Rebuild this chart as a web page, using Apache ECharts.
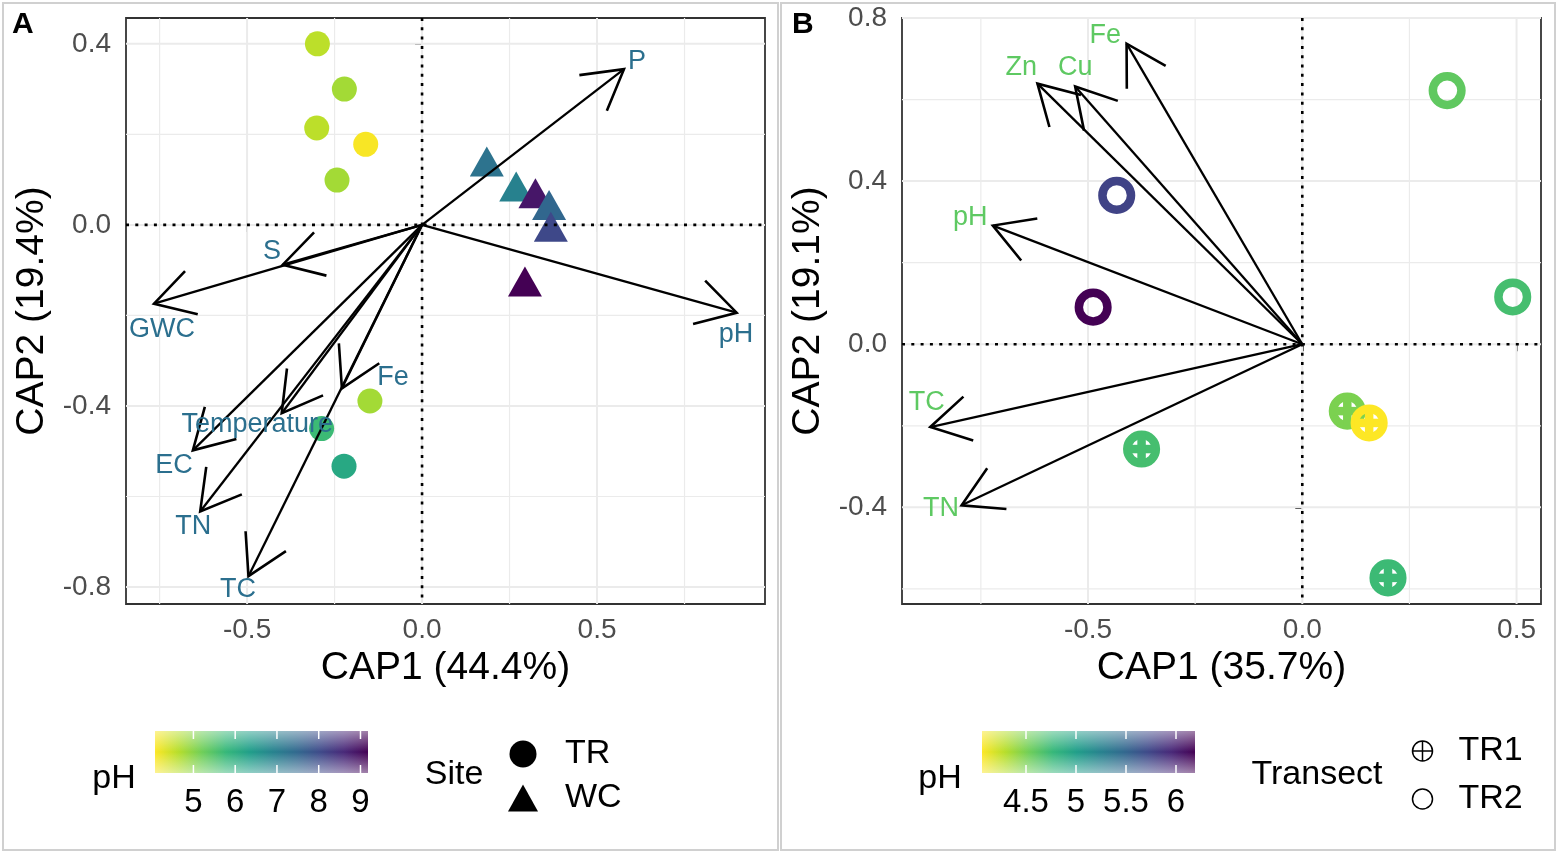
<!DOCTYPE html>
<html><head><meta charset="utf-8">
<script src="https://cdn.jsdelivr.net/npm/echarts@6/dist/echarts.min.js"></script>
<style>html,body{margin:0;padding:0;background:#fff}#c{width:1562px;height:854px}</style>
</head><body><div id="c"></div>
<script>
// ---------- Panel A data ----------
// [CAP1, CAP2, pH]
const siteTR = [[-0.299,0.400,4.59],[-0.222,0.300,4.79],[-0.301,0.214,4.59],[-0.161,0.178,4.12],[-0.243,0.099,4.79],[-0.149,-0.389,4.79],[-0.287,-0.450,5.71],[-0.223,-0.533,6.12]];
const siteWC = [[0.185,0.140,7.25],[0.269,0.085,6.94],[0.324,0.070,8.87],[0.363,0.044,7.5],[0.368,-0.004,8.06],[0.294,-0.125,9.18]];
const envNamesA = ['P','pH','S','GWC','Fe','Temperature','EC','TN','TC'];
const envTipsA = [[0.577,0.344],[0.899,-0.194],[-0.398,-0.088],[-0.766,-0.174],[-0.229,-0.361],[-0.401,-0.416],[-0.655,-0.498],[-0.634,-0.633],[-0.496,-0.776]];
const envLabelPosA = [[0.614,0.360],[0.897,-0.243],[-0.429,-0.060],[-0.743,-0.232],[-0.083,-0.338],[-0.471,-0.441],[-0.709,-0.532],[-0.654,-0.667],[-0.526,-0.806]];
const xTicksA = [-0.5,0,0.5];
const yTicksA = [-0.8,-0.4,0,0.4];
const xGridA = [-0.75,-0.5,-0.25,0,0.25,0.5,0.75];
const yGridA = [-0.8,-0.6,-0.4,-0.2,0,0.2,0.4];
const pHTicksA = [5,6,7,8,9];
const pHRangeA = [4.08,9.18];

// ---------- Panel B data ----------
const transectTR1 = [[0.105,-0.164,4.49],[0.156,-0.193,4.06],[-0.375,-0.257,4.70],[0.200,-0.573,4.74]];
const transectTR2 = [[0.338,0.622,4.59],[0.491,0.116,4.70],[-0.433,0.365,5.76],[-0.488,0.091,6.19]];
const envNamesB = ['Fe','Zn','Cu','pH','TC','TN'];
const envTipsB = [[-0.410,0.737],[-0.618,0.639],[-0.530,0.632],[-0.722,0.291],[-0.868,-0.203],[-0.795,-0.395]];
const envLabelPosB = [[-0.460,0.757],[-0.656,0.679],[-0.530,0.679],[-0.775,0.311],[-0.876,-0.142],[-0.843,-0.404]];
const xTicksB = [-0.5,0,0.5];
const yTicksB = [-0.4,0,0.4,0.8];
const xGridB = [-0.75,-0.5,-0.25,0,0.25,0.5];
const yGridB = [-0.6,-0.4,-0.2,0,0.2,0.4,0.6,0.8];
const pHTicksB = [4.5,5,5.5,6];
const pHRangeB = [4.06,6.19];

const viridisR = ['#fde725','#b5de2b','#6ece58','#35b779','#1f9e89','#26828e','#31688e','#3e4989','#482878','#440154'];
const FONT = '"Liberation Sans", Arial, sans-serif';

const chart = echarts.init(document.getElementById('c'), null, {renderer:'canvas'});

function gridSeries(idx, xs, ys) {
  const data = xs.map(v => [v, 0, 0]).concat(ys.map(v => [0, v, 1]));
  return {type:'custom', xAxisIndex:idx, yAxisIndex:idx, silent:true, z:1, data,
    renderItem(params, api) {
      const cs = params.coordSys; const kind = api.value(2);
      const minor = kind === 0 ? (Math.abs(api.value(0) * 2 % 1) > 0.01) : (Math.abs(api.value(1) * 2.5 % 1) > 0.01);
      const w = minor ? 1.2 : 2;
      if (kind === 0) { const x = api.coord([api.value(0), 0])[0];
        return {type:'line', shape:{x1:x, y1:cs.y, x2:x, y2:cs.y+cs.height}, style:{stroke:'#ebebeb', lineWidth:w}}; }
      const y = api.coord([0, api.value(1)])[1];
      return {type:'line', shape:{x1:cs.x, y1:y, x2:cs.x+cs.width, y2:y}, style:{stroke:'#ebebeb', lineWidth:w}};
    }};
}
function zeroSeries(idx) {
  return {type:'custom', xAxisIndex:idx, yAxisIndex:idx, silent:true, z:3, data:[[0,0,0],[0,0,1]],
    renderItem(params, api) {
      const cs = params.coordSys; const o = api.coord([0,0]);
      const st = {stroke:'#000', lineWidth:2.6, lineDash:[3,6.3]};
      if (api.value(2) === 0) return {type:'line', shape:{x1:o[0], y1:cs.y, x2:o[0], y2:cs.y+cs.height}, style:st};
      return {type:'line', shape:{x1:cs.x, y1:o[1], x2:cs.x+cs.width, y2:o[1]}, style:st};
    }};
}
function arrowSeries(idx, tips, labels, names, color) {
  return {type:'custom', xAxisIndex:idx, yAxisIndex:idx, silent:true, z:5,
    data: tips.map((t,i) => [t[0], t[1], labels[i][0], labels[i][1]]),
    renderItem(params, api) {
      const o = api.coord([0,0]);
      const t = api.coord([api.value(0), api.value(1)]);
      const l = api.coord([api.value(2), api.value(3)]);
      const dx = o[0]-t[0], dy = o[1]-t[1], len = Math.hypot(dx, dy);
      const ux = dx/len, uy = dy/len, hl = 45, a = Math.PI/6;
      const rot = (ang) => [t[0] + hl*(ux*Math.cos(ang) - uy*Math.sin(ang)), t[1] + hl*(ux*Math.sin(ang) + uy*Math.cos(ang))];
      return {type:'group', children:[
        {type:'line', shape:{x1:o[0], y1:o[1], x2:t[0], y2:t[1]}, style:{stroke:'#000', lineWidth:2.3}},
        {type:'polyline', shape:{points:[rot(a), t, rot(-a)]}, style:{stroke:'#000', lineWidth:2.6, fill:null}},
        {type:'text', z2:10, x:l[0], y:l[1], style:{text:names[params.dataIndex], fill:color, font:'27px ' + FONT, align:'center', verticalAlign:'middle'}}
      ]};
    }};
}
function ringSeries(name, idx, data, cross) {
  return {type:'custom', name, xAxisIndex:idx, yAxisIndex:idx, z:2, data,
    encode:{x:0, y:1},
    renderItem(params, api) {
      const c = api.coord([api.value(0), api.value(1)]);
      const col = api.visual('color'); const r = 14.3, lw = 8.5;
      const ch = [{type:'circle', shape:{cx:c[0], cy:c[1], r}, style:{fill:'none', stroke:col, lineWidth:lw}}];
      if (cross) {
        ch.push({type:'line', shape:{x1:c[0]-r, y1:c[1], x2:c[0]+r, y2:c[1]}, style:{stroke:col, lineWidth:lw}});
        ch.push({type:'line', shape:{x1:c[0], y1:c[1]-r, x2:c[0], y2:c[1]+r}, style:{stroke:col, lineWidth:lw}});
      }
      return {type:'group', children:ch};
    }};
}
function colorbarSeries(idx, ticks) {
  return {type:'custom', xAxisIndex:idx, yAxisIndex:idx, silent:true, z:2,
    data: ticks.map(v => [v, 0]),
    renderItem(params, api) {
      const cs = params.coordSys; const x = api.coord([api.value(0), 0])[0];
      const ch = [];
      if (params.dataIndex === 0) {
        ch.push({type:'rect', z2:0, shape:{x:cs.x, y:cs.y, width:cs.width, height:cs.height},
          style:{fill:new echarts.graphic.LinearGradient(0,0,1,0, viridisR.map((c,i)=>({offset:i/(viridisR.length-1), color:c})))}});
        ch.push({type:'rect', z2:1, shape:{x:cs.x, y:cs.y, width:cs.width, height:cs.height},
          style:{fill:new echarts.graphic.LinearGradient(0,0,0,1,[{offset:0,color:'rgba(255,255,255,0.5)'},{offset:0.5,color:'rgba(255,255,255,0)'},{offset:1,color:'rgba(255,255,255,0.5)'}])}});
      }
      ch.push({type:'line', z2:5, shape:{x1:x, y1:cs.y, x2:x, y2:cs.y+8}, style:{stroke:'#fff', lineWidth:1.5}});
      ch.push({type:'line', z2:5, shape:{x1:x, y1:cs.y+cs.height-8, x2:x, y2:cs.y+cs.height}, style:{stroke:'#fff', lineWidth:1.5}});
      return {type:'group', children:ch};
    }};
}
function plotXAxis(idx, min, max, ticks, name) {
  return {gridIndex:idx, type:'value', min, max, name, nameLocation:'middle', nameGap:43,
    nameTextStyle:{fontSize:39, color:'#000', fontFamily:FONT},
    axisLine:{show:false}, splitLine:{show:false},
    axisTick:{show:true, customValues:ticks, length:7, lineStyle:{color:'#333', width:2}},
    axisLabel:{customValues:ticks, formatter:v => Number(v).toFixed(1), fontSize:28, color:'#4d4d4d', fontFamily:FONT, margin:12}};
}
function plotYAxis(idx, min, max, ticks, name) {
  return {gridIndex:idx, type:'value', min, max, name, nameLocation:'middle', nameGap:74, nameRotate:90,
    nameTextStyle:{fontSize:39, color:'#000', fontFamily:FONT},
    axisLine:{show:false}, splitLine:{show:false},
    axisTick:{show:true, customValues:ticks, length:7, lineStyle:{color:'#333', width:2}},
    axisLabel:{customValues:ticks, formatter:v => Number(v).toFixed(1), fontSize:28, color:'#4d4d4d', fontFamily:FONT, margin:15}};
}
function cbXAxis(idx, range, ticks) {
  return {gridIndex:idx, type:'value', min:range[0], max:range[1], axisLine:{show:false}, splitLine:{show:false},
    axisTick:{show:false}, axisLabel:{customValues:ticks, fontSize:33, color:'#000', fontFamily:FONT, margin:13}};
}

const option = {
  animation:false,
  backgroundColor:'#fff',
  grid:[
    {left:126, top:18, width:639, height:586, show:true, borderColor:'#333', borderWidth:1.8, backgroundColor:'#fff'},
    {left:902, top:18, width:639, height:586, show:true, borderColor:'#333', borderWidth:1.8, backgroundColor:'#fff'},
    {left:155, top:731, width:213, height:42},
    {left:982, top:731, width:213, height:42}
  ],
  xAxis:[
    plotXAxis(0, -0.846, 0.98, xTicksA, 'CAP1 (44.4%)'),
    plotXAxis(1, -0.934, 0.557, xTicksB, 'CAP1 (35.7%)'),
    cbXAxis(2, pHRangeA, pHTicksA),
    cbXAxis(3, pHRangeB, pHTicksB)
  ],
  yAxis:[
    plotYAxis(0, -0.8375, 0.457, yTicksA, 'CAP2 (19.4%)'),
    plotYAxis(1, -0.637, 0.8, yTicksB, 'CAP2 (19.1%)'),
    {gridIndex:2, type:'value', min:0, max:1, show:false},
    {gridIndex:3, type:'value', min:0, max:1, show:false}
  ],
  visualMap:[
    {type:'continuous', show:false, dimension:2, min:pHRangeA[0], max:pHRangeA[1], seriesIndex:[2,3], inRange:{color:viridisR, opacity:1}},
    {type:'continuous', show:false, dimension:2, min:pHRangeB[0], max:pHRangeB[1], seriesIndex:[8,9], inRange:{color:viridisR}}
  ],
  legend:[
    {left:503, top:732, orient:'vertical', itemWidth:30, itemHeight:27, itemGap:10, selectedMode:false,
     textStyle:{fontSize:34, color:'#000', fontFamily:FONT, padding:[0,0,0,22]},
     data:[{name:'TR', icon:'circle', itemStyle:{color:'#000', opacity:1}}, {name:'WC', icon:'triangle', itemStyle:{color:'#000', opacity:1}}]},
    {left:1405, top:729, orient:'vertical', itemWidth:20, itemHeight:20, itemGap:14, selectedMode:false,
     textStyle:{fontSize:34, color:'#000', fontFamily:FONT, padding:[0,0,0,21]},
     data:[{name:'TR1', icon:'path://M1,11A10,10,0,1,1,21,11A10,10,0,1,1,1,11ZM11,1L11,21M1,11L21,11', itemStyle:{color:'none', borderColor:'#000', borderWidth:1.5, opacity:1}},
           {name:'TR2', icon:'circle', itemStyle:{color:'none', borderColor:'#000', borderWidth:1.5, opacity:1}}]}
  ],
  series:[
    gridSeries(0, xGridA, yGridA),                                   //0
    zeroSeries(0),                                                   //1
    {type:'scatter', name:'TR', xAxisIndex:0, yAxisIndex:0, z:2, symbol:'circle', symbolSize:25, itemStyle:{opacity:1}, data:siteTR},       //2
    {type:'scatter', name:'WC', xAxisIndex:0, yAxisIndex:0, z:2, symbol:'triangle', symbolSize:[34,30], itemStyle:{opacity:1}, data:siteWC}, //3
    arrowSeries(0, envTipsA, envLabelPosA, envNamesA, '#2b6f8e'),    //4
    gridSeries(1, xGridB, yGridB),                                   //5
    zeroSeries(1),                                                   //6
    colorbarSeries(2, pHTicksA),                                     //7
    ringSeries('TR1', 1, transectTR1, true),                         //8
    ringSeries('TR2', 1, transectTR2, false),                        //9
    arrowSeries(1, envTipsB, envLabelPosB, envNamesB, '#5ec962'),    //10
    colorbarSeries(3, pHTicksB)                                      //11
  ],
  graphic:[
    {type:'rect', shape:{x:3, y:3, width:775, height:847}, style:{fill:'none', stroke:'#d0d0d0', lineWidth:2}, silent:true},
    {type:'rect', shape:{x:781, y:3, width:774, height:847}, style:{fill:'none', stroke:'#d0d0d0', lineWidth:2}, silent:true},
    {type:'text', left:12, top:10, style:{text:'A', font:'bold 30px ' + FONT, fill:'#000'}},
    {type:'text', left:792, top:10, style:{text:'B', font:'bold 30px ' + FONT, fill:'#000'}},
    {type:'text', x:114, y:779, style:{text:'pH', font:'34px ' + FONT, fill:'#000', align:'center', verticalAlign:'middle'}},
    {type:'text', x:454, y:775, style:{text:'Site', font:'34px ' + FONT, fill:'#000', align:'center', verticalAlign:'middle'}},
    {type:'text', x:940, y:779, style:{text:'pH', font:'34px ' + FONT, fill:'#000', align:'center', verticalAlign:'middle'}},
    {type:'text', x:1317, y:775, style:{text:'Transect', font:'34px ' + FONT, fill:'#000', align:'center', verticalAlign:'middle'}}
  ]
};
chart.setOption(option);
</script></body></html>
